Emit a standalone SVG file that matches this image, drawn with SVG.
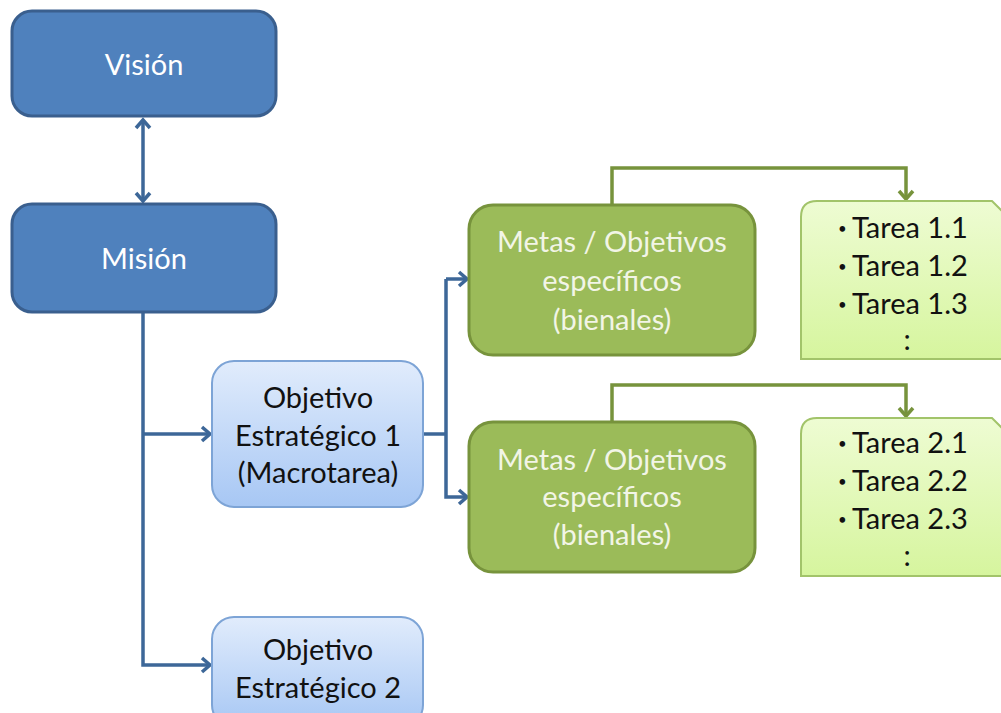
<svg xmlns="http://www.w3.org/2000/svg" width="1001" height="713" viewBox="0 0 1001 713">
<style>
.t{font-family:Lato,"Open Sans","Liberation Sans",sans-serif;font-size:29px;text-anchor:middle}
.s{text-anchor:start}
.b{font-size:15px}
.w{fill:#ffffff}
.g{fill:#f2f5e6}
.k{fill:#111111}
.dark{fill:#4f81bd;stroke:#3a5f8e;stroke-width:3}
.green{fill:#9bbb59;stroke:#77933c;stroke-width:3}
.obj{fill:url(#gb);stroke:#7da4d6;stroke-width:2}
.task{fill:url(#gg);stroke:#a2c46a;stroke-width:2}
.cb{fill:none;stroke:#3d6798;stroke-width:3.5}
.cg{fill:none;stroke:#77933c;stroke-width:3.5}
</style>
<defs>
<linearGradient id="gb" x1="0" y1="0" x2="0" y2="1"><stop offset="0" stop-color="#e1ecfc"/><stop offset="1" stop-color="#a7c7f4"/></linearGradient>
<linearGradient id="gg" x1="0" y1="0" x2="0" y2="1"><stop offset="0" stop-color="#eefcd3"/><stop offset="1" stop-color="#d6f59e"/></linearGradient>
<marker id="ab" markerUnits="userSpaceOnUse" markerWidth="16" markerHeight="16" refX="11" refY="8" orient="auto-start-reverse" overflow="visible"><path d="M3,1 L11,8 L3,15" fill="none" stroke="#3d6798" stroke-width="3.5"/></marker>
<marker id="ag" markerUnits="userSpaceOnUse" markerWidth="16" markerHeight="16" refX="11" refY="8" orient="auto" overflow="visible"><path d="M3,1 L11,8 L3,15" fill="none" stroke="#77933c" stroke-width="3.5"/></marker>
</defs>
<g id="connectors">
<path class="cb" d="M143,120 L143,201" marker-start="url(#ab)" marker-end="url(#ab)"/>
<path class="cb" d="M143,312 L143,665 L210,665" marker-end="url(#ab)"/>
<path class="cb" d="M143,434 L210,434" marker-end="url(#ab)"/>
<path class="cb" d="M423,434 L446,434"/>
<path class="cb" d="M446,279 L467,279" marker-end="url(#ab)"/>
<path class="cb" d="M446,279 L446,497 L467,497" marker-end="url(#ab)"/>
<path class="cg" d="M612,204 L612,168 L906,168 L906,199" marker-end="url(#ag)"/>
<path class="cg" d="M612,421 L612,385 L906,385 L906,416" marker-end="url(#ag)"/>
</g>
<g id="vision"><rect class="dark" x="12" y="11" width="264" height="105" rx="20"/><text class="t w" x="144" y="75">Visión</text></g>
<g id="mision"><rect class="dark" x="12" y="204" width="264" height="108" rx="20"/><text class="t w" x="144" y="269">Misión</text></g>
<g id="obj1"><rect class="obj" x="212" y="361" width="211" height="146" rx="22"/>
<text class="t k" x="318" y="408">Objetivo</text><text class="t k" x="318" y="446">Estratégico 1</text><text class="t k" x="318" y="483">(Macrotarea)</text></g>
<g id="obj2"><rect class="obj" x="212" y="617" width="211" height="110" rx="22"/>
<text class="t k" x="318" y="660">Objetivo</text><text class="t k" x="318" y="698">Estratégico 2</text></g>
<g id="metas1"><rect class="green" x="469" y="205" width="286" height="150" rx="24"/>
<text class="t g" x="612" y="252">Metas / Objetivos</text><text class="t g" x="612" y="291">específicos</text><text class="t g" x="612" y="330">(bienales)</text></g>
<g id="metas2"><rect class="green" x="469" y="422" width="286" height="150" rx="24"/>
<text class="t g" x="612" y="470">Metas / Objetivos</text><text class="t g" x="612" y="507">específicos</text><text class="t g" x="612" y="545">(bienales)</text></g>
<g id="tareas1"><path class="task" d="M801,359 L801,217 Q801,201 817,201 L992,201 L1006,215 L1006,359 Z"/>
<text class="t k s" y="238"><tspan class="b" x="838" dy="-4">•</tspan><tspan x="852" dy="4">Tarea 1.1</tspan></text>
<text class="t k s" y="276"><tspan class="b" x="838" dy="-4">•</tspan><tspan x="852" dy="4">Tarea 1.2</tspan></text>
<text class="t k s" y="314"><tspan class="b" x="838" dy="-4">•</tspan><tspan x="852" dy="4">Tarea 1.3</tspan></text>
<text class="t k" x="907" y="350">:</text></g>
<g id="tareas2"><path class="task" d="M801,576 L801,434 Q801,418 817,418 L992,418 L1006,432 L1006,576 Z"/>
<text class="t k s" y="453"><tspan class="b" x="838" dy="-4">•</tspan><tspan x="852" dy="4">Tarea 2.1</tspan></text>
<text class="t k s" y="491"><tspan class="b" x="838" dy="-4">•</tspan><tspan x="852" dy="4">Tarea 2.2</tspan></text>
<text class="t k s" y="529"><tspan class="b" x="838" dy="-4">•</tspan><tspan x="852" dy="4">Tarea 2.3</tspan></text>
<text class="t k" x="907" y="566">:</text></g>
</svg>
